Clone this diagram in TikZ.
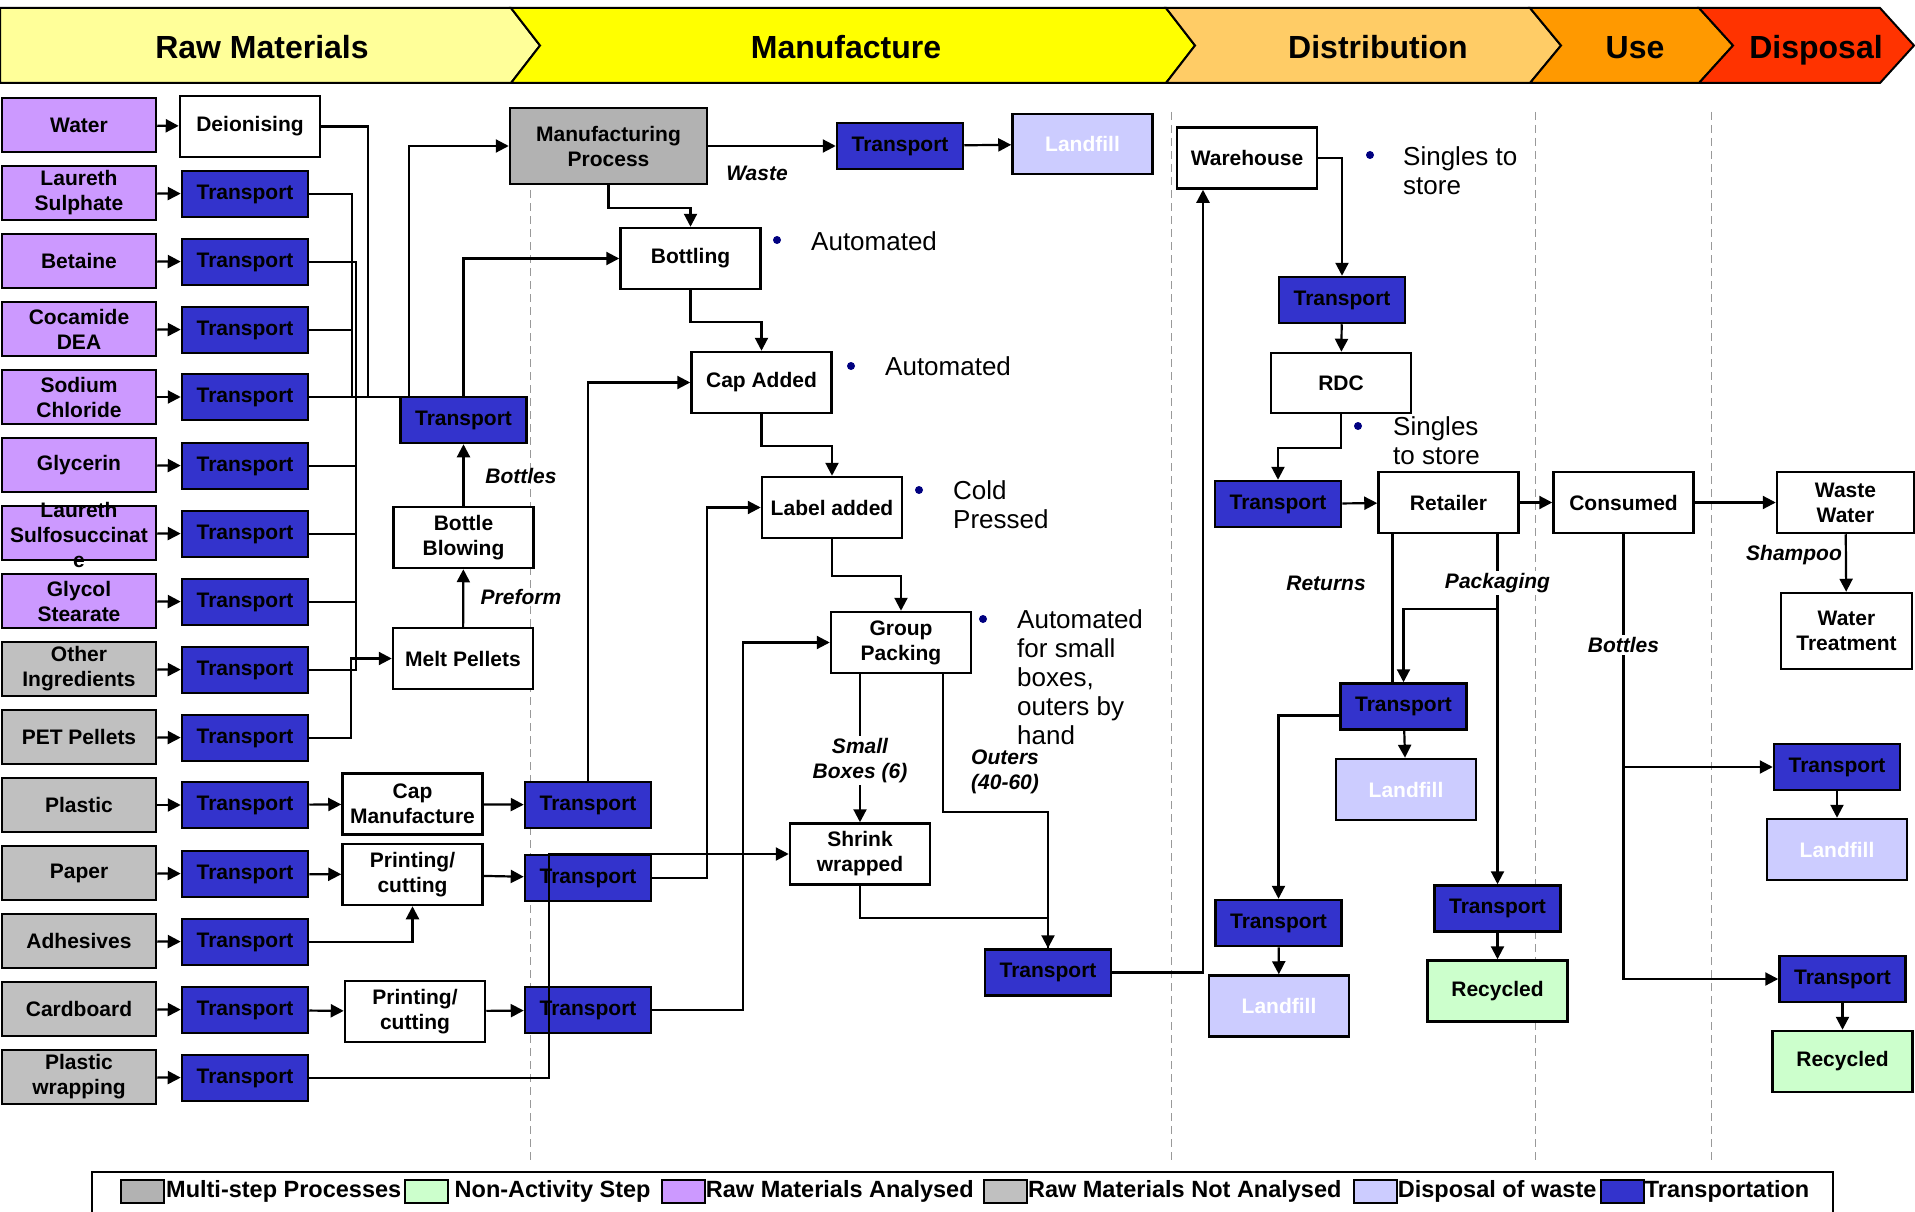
\documentclass[tikz,border=0pt]{standalone}
\usepackage{fontspec}
\setmainfont{Liberation Sans}
\usetikzlibrary{arrows.meta,positioning}

\definecolor{rawyellow}{HTML}{FFFF99}
\definecolor{mfgyellow}{HTML}{FFFF00}
\definecolor{distorange}{HTML}{FFCC66}
\definecolor{useorange}{HTML}{FF9900}
\definecolor{disposalred}{HTML}{FF3300}
\definecolor{rawpurple}{HTML}{CC99FF}
\definecolor{rawgrey}{HTML}{C0C0C0}
\definecolor{multigrey}{HTML}{B2B2B2}
\definecolor{transblue}{HTML}{3333CC}
\definecolor{landlav}{HTML}{CCCCFF}
\definecolor{stepgreen}{HTML}{CCFFCC}
\definecolor{dotnavy}{HTML}{000080}

\begin{document}
\begin{tikzpicture}[x=1pt, y=-1pt,
    basebox/.style={draw, line width=2.5pt, align=center, inner sep=0pt,
      font=\bfseries\fontsize{21}{25}\selectfont},
    rawbox/.style={basebox, minimum width=154pt, minimum height=54pt},
    rawa/.style={rawbox, fill=rawpurple},
    rawn/.style={rawbox, fill=rawgrey},
    trans/.style={basebox, fill=transblue, minimum width=126pt, minimum height=46pt},
    proc/.style={basebox, fill=white, minimum width=140pt, minimum height=61pt},
    landfill/.style={proc, fill=landlav, text=white},
    recycled/.style={proc, fill=stepgreen},
    link/.style={line width=2.2pt},
    arr/.style={link, -{Triangle[length=13pt,width=13pt]}},
    flow/.style={font=\bfseries\itshape\fontsize{21}{25}\selectfont, align=center, inner sep=2pt},
    note/.style={font=\fontsize{26}{29}\selectfont, align=left, anchor=west, inner sep=0pt},
    bulletdot/.style={circle, fill=dotnavy, inner sep=0pt, minimum size=8pt},
    phase/.style={draw, line width=2pt},
    phasetext/.style={font=\bfseries\fontsize{32}{38}\selectfont, anchor=base},
    divider/.style={black!40, line width=1pt, dash pattern=on 8pt off 5pt},
    swatch/.style={draw, line width=2pt, minimum width=43pt, minimum height=23pt, inner sep=0pt},
    legtext/.style={font=\bfseries\fontsize{23.5}{28}\selectfont, inner sep=0pt}]

      \useasboundingbox (0,0) rectangle (1915,1212);

      % Stage dividers
      \draw[divider] (530,112) -- (530,1160);
      \draw[divider] (1171,112) -- (1171,1160);
      \draw[divider] (1535,112) -- (1535,1160);
      \draw[divider] (1711,112) -- (1711,1160);

      % Stages
      \draw[phase, fill=rawyellow] (0,8) -- (511,8) -- (540,45.5) -- (511,83) -- (0,83) -- cycle;
      \draw[phase, fill=mfgyellow] (511,8) -- (1166,8) -- (1195,45.5) -- (1166,83) -- (511,83) -- (540,45.5) -- cycle;
      \draw[phase, fill=distorange] (1166,8) -- (1530,8) -- (1561,45.5) -- (1530,83) -- (1166,83) -- (1195,45.5) -- cycle;
      \draw[phase, fill=useorange] (1530,8) -- (1699,8) -- (1733,45.5) -- (1699,83) -- (1530,83) -- (1561,45.5) -- cycle;
      \draw[phase, fill=disposalred] (1699,8) -- (1880,8) -- (1914,45.5) -- (1880,83) -- (1699,83) -- (1733,45.5) -- cycle;
      \node[phasetext] (hRaw) at (262,58.5) {Raw Materials};
      \node[phasetext] (hMfg) at (846,58.5) {Manufacture};
      \node[phasetext] (hDist) at (1378,58.5) {Distribution};
      \node[phasetext] (hUse) at (1635,58.5) {Use};
      \node[phasetext] (hDisp) at (1816,58.5) {Disposal};

      % Raw materials
      \node[rawa] (rWater) at (79,125) {Water};
      \node[rawa] (rLaurS) at (79,193) {Laureth\\Sulphate};
      \node[rawa] (rBeta) at (79,261) {Betaine};
      \node[rawa] (rCoca) at (79,329) {Cocamide\\DEA};
      \node[rawa] (rSodium) at (79,397) {Sodium\\Chloride};
      \node[rawa] (rGlyc) at (79,465) {Glycerin};
      \node[rawa] (rLSS) at (79,533) {};
      \node[basebox, draw=none] (rLSSt) at (79,535) {Laureth\\Sulfosuccinat\\e};
      \node[rawa] (rGSt) at (79,601) {Glycol\\Stearate};
      \node[rawn] (rOther) at (79,669) {Other\\Ingredients};
      \node[rawn] (rPET) at (79,737) {PET Pellets};
      \node[rawn] (rPlastic) at (79,805) {Plastic};
      \node[rawn] (rPaper) at (79,873) {Paper};
      \node[rawn] (rAdh) at (79,941) {Adhesives};
      \node[rawn] (rCard) at (79,1009) {Cardboard};
      \node[rawn] (rWrap) at (79,1077) {Plastic\\wrapping};

      % Inbound transport
      \node[proc] (deion) at (250,126.5) {Deionising};
      \node[trans] (tLaurS) at (245,194) {Transport};
      \node[trans] (tBeta) at (245,262) {Transport};
      \node[trans] (tCoca) at (245,330) {Transport};
      \node[trans] (tSodium) at (245,397) {Transport};
      \node[trans] (tGlyc) at (245,466) {Transport};
      \node[trans] (tLSS) at (245,534) {Transport};
      \node[trans] (tGSt) at (245,602) {Transport};
      \node[trans] (tOther) at (245,670) {Transport};
      \node[trans] (tPET) at (245,738) {Transport};
      \node[trans] (tPlastic) at (245,805) {Transport};
      \node[trans] (tPaper1) at (245,874) {Transport};
      \node[trans] (tAdh) at (245,942) {Transport};
      \node[trans] (tCard1) at (245,1010) {Transport};
      \node[trans] (tWrap) at (245,1078) {Transport};

      % Manufacture
      \node[basebox, fill=multigrey, minimum width=197pt, minimum height=76pt] (mp) at (608.5,146) {Manufacturing\\Process};
      \node[trans] (tWaste) at (900,146) {Transport};
      \node[landfill, minimum height=60pt] (lfWaste) at (1082.5,144) {Landfill};
      \node[proc] (bottling) at (690.5,258.5) {Bottling};
      \node[proc] (capadd) at (761.5,382.5) {Cap Added};
      \node[proc] (labeladd) at (832,507.5) {Label added};
      \node[proc] (group) at (901,642.5) {Group\\Packing};
      \node[proc] (shrink) at (860,854) {Shrink\\wrapped};
      \node[trans] (tOut) at (1048,972.5) {Transport};
      \node[trans] (tMix) at (463.5,420) {Transport};
      \node[proc] (blow) at (463.5,537.5) {Bottle\\Blowing};
      \node[proc] (melt) at (463,658.5) {Melt Pellets};
      \node[proc] (capman) at (412.5,804) {Cap\\Manufacture};
      \node[proc] (print1) at (412.5,874.5) {Printing/\\cutting};
      \node[proc] (print2) at (415,1011.5) {Printing/\\cutting};
      \node[trans] (tCap) at (588,805) {Transport};
      \node[trans] (tPaper) at (588,878) {Transport};
      \node[trans] (tBoard) at (588,1010) {Transport};

      % Distribution
      \node[proc] (ware) at (1247,158) {Warehouse};
      \node[trans] (tD1) at (1342,300) {Transport};
      \node[proc, minimum height=60pt] (rdc) at (1341,383) {RDC};
      \node[trans] (tD2) at (1278,504) {Transport};
      \node[proc] (retail) at (1448.5,502.5) {Retailer};
      \node[trans] (tD3) at (1403.5,706.5) {Transport};
      \node[landfill] (lfD3) at (1406,789.5) {Landfill};
      \node[trans] (tD4) at (1278.5,923) {Transport};
      \node[landfill] (lfD4) at (1279,1006) {Landfill};
      \node[trans] (tD5) at (1497.5,908.5) {Transport};
      \node[recycled] (recD5) at (1497.5,991) {Recycled};

      % Use and disposal
      \node[proc] (consumed) at (1623.5,502.5) {Consumed};
      \node[proc, minimum width=137pt] (wastew) at (1845.5,502.5) {Waste\\Water};
      \node[proc, minimum width=131pt, minimum height=76pt] (wtreat) at (1846.5,631) {Water\\Treatment};
      \node[trans] (tP1) at (1837,767) {Transport};
      \node[landfill] (lfP1) at (1837,849.5) {Landfill};
      \node[trans] (tP2) at (1842.5,979) {Transport};
      \node[recycled] (recP2) at (1842.5,1061.5) {Recycled};

      % Feeds
      \draw[arr] (rWater) -- (deion);
      \draw[arr] (rLaurS) -- (tLaurS);
      \draw[arr] (rBeta) -- (tBeta);
      \draw[arr] (rCoca) -- (tCoca);
      \draw[arr] (rSodium) -- (tSodium);
      \draw[arr] (rGlyc) -- (tGlyc);
      \draw[arr] (rLSS) -- (tLSS);
      \draw[arr] (rGSt) -- (tGSt);
      \draw[arr] (rOther) -- (tOther);
      \draw[arr] (rPET) -- (tPET);
      \draw[arr] (rPlastic) -- (tPlastic);
      \draw[arr] (rPaper) -- (tPaper1);
      \draw[arr] (rAdh) -- (tAdh);
      \draw[arr] (rCard) -- (tCard1);
      \draw[arr] (rWrap) -- (tWrap);

      % Ingredient bus
      \coordinate (busA) at (352,397);
      \coordinate (busB) at (356,397);
      \coordinate (busD) at (368,397);
      \coordinate (mix) at (409,146);
      \draw[link] (deion.east) -| (busD);
      \draw[link] (tLaurS.east) -| (busA);
      \draw[link] (tCoca.east) -| (busA);
      \draw[link] (tBeta.east) -| (busB);
      \draw[link] (tGlyc.east) -| (busB);
      \draw[link] (tLSS.east) -| (busB);
      \draw[link] (tGSt.east) -| (busB);
      \draw[link] (tOther.east) -| (busB);
      \draw[arr] (tSodium.east) -| (mix) -- (mp.west);

      % Bottles
      \draw[arr] (tPET.east) -- ++(42,0) |- (melt.west);
      \draw[arr] (melt) -- (blow);
      \draw[arr] (blow) -- (tMix);
      \draw[arr] (tMix.north) |- (bottling.west);

      % Line
      \draw[arr] (mp) -- (tWaste);
      \draw[arr] (tWaste) -- (lfWaste);
      \draw[arr] (mp.south) -- ++(0,23) -| (bottling.north);
      \draw[arr] (bottling.south) -- ++(0,32) -| (capadd.north);
      \draw[arr] (capadd.south) -- ++(0,32) -| (labeladd.north);
      \draw[arr] (labeladd.south) -- ++(0,37) -| (group.north);
      \draw[arr] (group.south -| shrink.north) -- (shrink.north);
      \draw[arr] ([xshift=42pt]group.south) -- ++(0,138) -| (tOut.north);
      \draw[link] (shrink.south) -- ++(0,32) -| (tOut.north);
      \draw[arr] (tOut.east) -| ([xshift=-44pt]ware.south);

      % Caps, labels, packaging
      \draw[arr] (tPlastic) -- (capman);
      \draw[arr] (capman) -- (tCap);
      \draw[arr] (tCap.north) |- (capadd.west);
      \draw[arr] (tPaper1) -- (print1);
      \draw[arr] (print1) -- (tPaper);
      \draw[arr] (tAdh.east) -| (print1.south);
      \draw[arr] (tPaper.east) -- ++(55,0) |- (labeladd.west);
      \draw[arr] (tCard1) -- (print2);
      \draw[arr] (print2) -- (tBoard);
      \draw[arr] (tBoard.east) -- ++(91,0) |- (group.west);
      \draw[arr] (tWrap.east) -- ++(240,0) |- (shrink.west);

      % Distribution
      \draw[arr] (ware.east) -| (tD1.north);
      \draw[arr] (tD1) -- (rdc);
      \draw[arr] (rdc.south) -- ++(0,34) -| (tD2.north);
      \draw[arr] (tD2) -- (retail);
      \draw[arr] (retail) -- (consumed);
      \draw[link] ([xshift=-56pt]retail.south) -- ([xshift=-11pt]tD3.north);
      \draw[arr] (retail.south -| tD5.north) -- (tD5.north);
      \coordinate (pack) at (1497.5,609);
      \draw[arr] (pack) -| (tD3.north);
      \draw[arr] (tD3) -- (lfD3);
      \draw[arr] ([yshift=-9pt]tD3.west) -| (tD4.north);
      \draw[arr] (tD4) -- (lfD4);
      \draw[arr] (tD5) -- (recD5);

      % Use and disposal
      \draw[arr] (consumed) -- (wastew);
      \draw[arr] (wastew) -- (wtreat);
      \draw[arr] (consumed.south) |- (tP2.west);
      \draw[arr] (consumed.south |- tP1.west) -- (tP1.west);
      \draw[arr] (tP1) -- (lfP1);
      \draw[arr] (tP2) -- (recP2);

      % Flow labels
      \node[flow] (fWaste) at (757,173) {Waste};
      \node[flow] (fBottles) at (521,476) {Bottles};
      \node[flow] (fPreform) at (521,597) {Preform};
      \node[flow, fill=white] (fSmall) at (860,760.5) {Small\\Boxes (6)};
      \node[flow, align=left, anchor=west] (fOuters) at (969,771.5) {Outers\\(40-60)};
      \node[flow] (fReturns) at (1326,583) {Returns};
      \node[flow, fill=white] (fPack) at (1497.5,583) {Packaging};
      \node[flow, fill=white] (fBottles2) at (1623.5,645) {Bottles};
      \node[flow] (fShampoo) at (1794,555) {Shampoo};

      % Notes
      \node[bulletdot] (d1) at (777,240) {};
      \node[note] (n1) at (811,241) {Automated};
      \node[bulletdot] (d2) at (851,366) {};
      \node[note] (n2) at (885,366) {Automated};
      \node[bulletdot] (d3) at (919,490) {};
      \node[note] (n3) at (953,505) {Cold\\Pressed};
      \node[bulletdot] (d4) at (983,619) {};
      \node[note] (n4) at (1017,677.5) {Automated\\for small\\boxes,\\outers by\\hand};
      \node[bulletdot] (d5) at (1370,155) {};
      \node[note] (n5) at (1403,171) {Singles to\\store};
      \node[bulletdot] (d6) at (1358,426) {};
      \node[note] (n6) at (1393,441) {Singles\\to store};

      % Legend
      \draw[line width=2pt] (92,1216) |- (1833,1172) -- (1833,1216);
      \node[swatch, fill=multigrey] (sw1) at (142.5,1191.5) {};
      \node[legtext, right=1pt of sw1] (lg1) {Multi-step Processes};
      \node[swatch, fill=stepgreen, right=3pt of lg1] (sw2) {};
      \node[legtext, right=5pt of sw2] (lg2) {Non-Activity Step};
      \node[swatch, fill=rawpurple, right=10pt of lg2] (sw3) {};
      \node[legtext, right=0pt of sw3] (lg3) {Raw Materials Analysed};
      \node[swatch, fill=rawgrey, right=9pt of lg3] (sw4) {};
      \node[legtext, right=0pt of sw4] (lg4) {Raw Materials Not Analysed};
      \node[swatch, fill=landlav, right=11pt of lg4] (sw5) {};
      \node[legtext, right=0pt of sw5] (lg5) {Disposal of waste};
      \node[swatch, fill=transblue, right=3pt of lg5] (sw6) {};
      \node[legtext, right=0pt of sw6] (lg6) {Transportation};

    \end{tikzpicture}
\end{document}
